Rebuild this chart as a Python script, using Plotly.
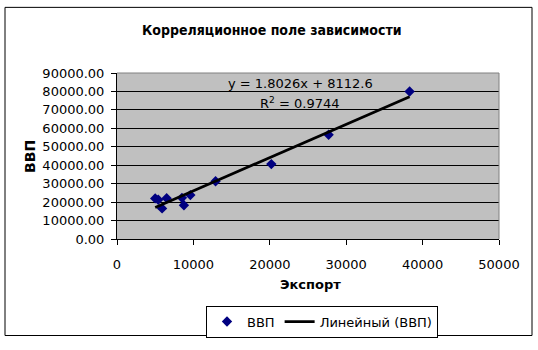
import plotly.graph_objects as go

# Data
export_vals = [5000, 5400, 5900, 6500, 8500, 8760, 9600, 12900, 20200, 27700, 38300]
gdp_vals = [22000, 21300, 16600, 22100, 22300, 18300, 23800, 31300, 40600, 56500, 80000]
trend_slope = 1.8026
trend_intercept = 8112.6
r_squared = 0.9744
y_ticks = [0, 10000, 20000, 30000, 40000, 50000, 60000, 70000, 80000, 90000]
x_ticks = [0, 10000, 20000, 30000, 40000, 50000]

title_text = "Корреляционное поле зависимости"
x_title = "Экспорт"
y_title = "ВВП"
series_name = "ВВП"
trend_name = "Линейный (ВВП)"

W, H = 538, 350
L, R, T, B = 117, 499, 73, 245
pw, ph = R - L, B - T

def px(xp):
    return (xp - L) / pw

def py(yp):
    return (B - yp) / ph

tx = [min(export_vals), max(export_vals)]
ty = [trend_slope * v + trend_intercept for v in tx]

fig = go.Figure()
fig.add_trace(go.Scatter(
    x=export_vals, y=gdp_vals, mode="markers", name=series_name,
    marker=dict(symbol="diamond", size=8, color="#000080"),
))
fig.add_trace(go.Scatter(
    x=tx, y=ty, mode="lines", name=trend_name,
    line=dict(color="black", width=2.8),
))

font = "DejaVu Sans"
fig.update_layout(
    width=W, height=H,
    margin=dict(l=L, r=W - R, t=T, b=H - B),
    paper_bgcolor="white", plot_bgcolor="#C0C0C0",
    font=dict(family=font, size=13, color="black"),
    showlegend=True,
    legend=dict(
        orientation="h", x=px(322), xanchor="center", y=py(314), yanchor="top",
        bordercolor="black", borderwidth=1, bgcolor="white",
        font=dict(family=font, size=13), itemwidth=30,
        tracegroupgap=0, itemsizing="trace",
    ),
    xaxis=dict(
        range=[0, 50000], tickvals=x_ticks, tickformat="d",
        showgrid=False, zeroline=False, showline=True, linecolor="black", linewidth=1,
        ticks="outside", ticklen=5, tickcolor="black", ticklabelstandoff=8,
        tickfont=dict(family=font, size=13),
    ),
    yaxis=dict(
        range=[0, 90000], tickvals=y_ticks, tickformat=".2f",
        showgrid=True, gridcolor="black", gridwidth=1, zeroline=False,
        showline=True, linecolor="black", linewidth=1,
        ticks="outside", ticklen=5, tickcolor="black", ticklabelstandoff=4,
        tickfont=dict(family=font, size=13),
    ),
    annotations=[
        dict(text="<b>" + title_text + "</b>", xref="paper", yref="paper",
             x=px(272), y=py(28), showarrow=False, xanchor="center", yanchor="middle",
             font=dict(family="DejaVu Sans Condensed, DejaVu Sans", size=14)),
        dict(text="<b>" + x_title + "</b>", xref="paper", yref="paper",
             x=px(310), y=py(292), showarrow=False, xanchor="center", yanchor="middle",
             font=dict(family=font, size=13)),
        dict(text="<b>" + y_title + "</b>", xref="paper", yref="paper",
             x=px(30), y=py(160), showarrow=False, xanchor="center", yanchor="middle",
             textangle=-90, font=dict(family=font, size=14)),
        dict(text=f"y = {trend_slope}x + {trend_intercept}", xref="paper", yref="paper",
             x=px(300), y=py(84), showarrow=False, xanchor="center", yanchor="middle",
             font=dict(family=font, size=13)),
        dict(text=f"R<sup>2</sup> = {r_squared}", xref="paper", yref="paper",
             x=px(300), y=py(104), showarrow=False, xanchor="center", yanchor="middle",
             font=dict(family=font, size=13)),
    ],
    shapes=[
        dict(type="rect", xref="paper", yref="paper", x0=px(5), x1=px(532), y0=py(345), y1=py(5),
             line=dict(color="black", width=1), layer="below"),
        dict(type="line", xref="paper", yref="paper", x0=0, x1=1, y0=1, y1=1,
             line=dict(color="#808080", width=1)),
        dict(type="line", xref="paper", yref="paper", x0=1, x1=1, y0=0, y1=1,
             line=dict(color="#808080", width=1)),
    ],
)

fig.write_html("out.html")
